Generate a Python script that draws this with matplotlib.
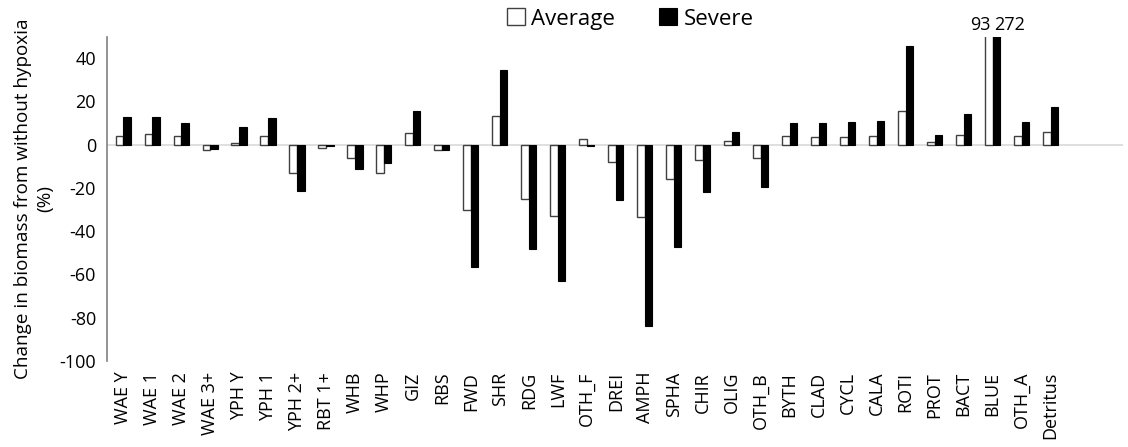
import matplotlib.pyplot as plt
import numpy as np

plt.rcParams['font.family'] = ['Open Sans', 'DejaVu Sans']
plt.rcParams['axes.unicode_minus'] = False

groups = ['WAE Y', 'WAE 1', 'WAE 2', 'WAE 3+', 'YPH Y', 'YPH 1', 'YPH 2+', 'RBT 1+',
          'WHB', 'WHP', 'GIZ', 'RBS', 'FWD', 'SHR', 'RDG', 'LWF', 'OTH_F', 'DREI',
          'AMPH', 'SPHA', 'CHIR', 'OLIG', 'OTH_B', 'BYTH', 'CLAD', 'CYCL', 'CALA',
          'ROTI', 'PROT', 'BACT', 'BLUE', 'OTH_A', 'Detritus']
average = [4.2, 4.9, 4.2, -2.5, 0.9, 4.2, -13.3, -1.4, -6.3, -13.0, 5.4, -2.3, -30.2,
           13.3, -25.3, -32.8, 2.6, -8.2, -33.6, -15.7, -7.2, 1.7, -6.3, 4.0, 3.6,
           3.7, 4.2, 15.4, 1.2, 4.5, 93, 4.0, 5.7]
severe = [12.7, 12.7, 9.9, -2.0, 8.3, 12.3, -21.5, -0.5, -11.3, -8.5, 15.6, -2.5, -56.7,
          34.7, -48.4, -63.2, -0.5, -25.6, -83.9, -47.4, -21.9, 5.7, -19.6, 10.2, 10.2,
          10.3, 11.0, 45.5, 4.3, 14.2, 272, 10.6, 17.3]

fig = plt.figure(figsize=(11.28, 4.47), dpi=100)
ax = fig.add_axes([0.095, 0.193, 0.9006, 0.725])

x = np.arange(len(groups))
w = 0.26
ax.bar(x - w / 2, average, w, color='white', edgecolor='#404040', linewidth=1.0,
       label='Average', zorder=3)
ax.bar(x + w / 2, severe, w, color='black', edgecolor='black', linewidth=0.8,
       label='Severe', zorder=3)

ax.set_ylim(-100, 50)
ax.set_xlim(-0.55, 34.5)
ax.axhline(0, color='#d9d9d9', linewidth=1.2, zorder=1)

# values that run off the top of the axis
i = groups.index('BLUE')
ax.text(i - w / 2 + 0.05, 51.0, '%d' % average[i], ha='right', va='bottom', fontsize=13)
ax.text(i + w / 2 - 0.08, 51.0, '%d' % severe[i], ha='left', va='bottom', fontsize=13)

ax.set_yticks(np.arange(-100, 41, 20))
ax.tick_params(axis='y', length=0, labelsize=13, pad=8)
ax.set_xticks(x)
ax.set_xticklabels(groups, rotation=90, fontsize=13)
ax.tick_params(axis='x', length=0, pad=8)

for s in ['top', 'right', 'bottom']:
    ax.spines[s].set_visible(False)
ax.spines['left'].set_color('#808080')
ax.spines['left'].set_linewidth(1.2)

ax.set_ylabel('Change in biomass from without hypoxia\n(%)', fontsize=13.6, labelpad=4,
              linespacing=1.25)

ax.legend(loc='upper center', bbox_to_anchor=(0.515, 1.135), ncol=2, frameon=False,
          fontsize=16, handlelength=0.8, handleheight=0.8, handletextpad=0.3,
          columnspacing=2.0, borderpad=0.2)

fig.savefig('out.png', dpi=100)
